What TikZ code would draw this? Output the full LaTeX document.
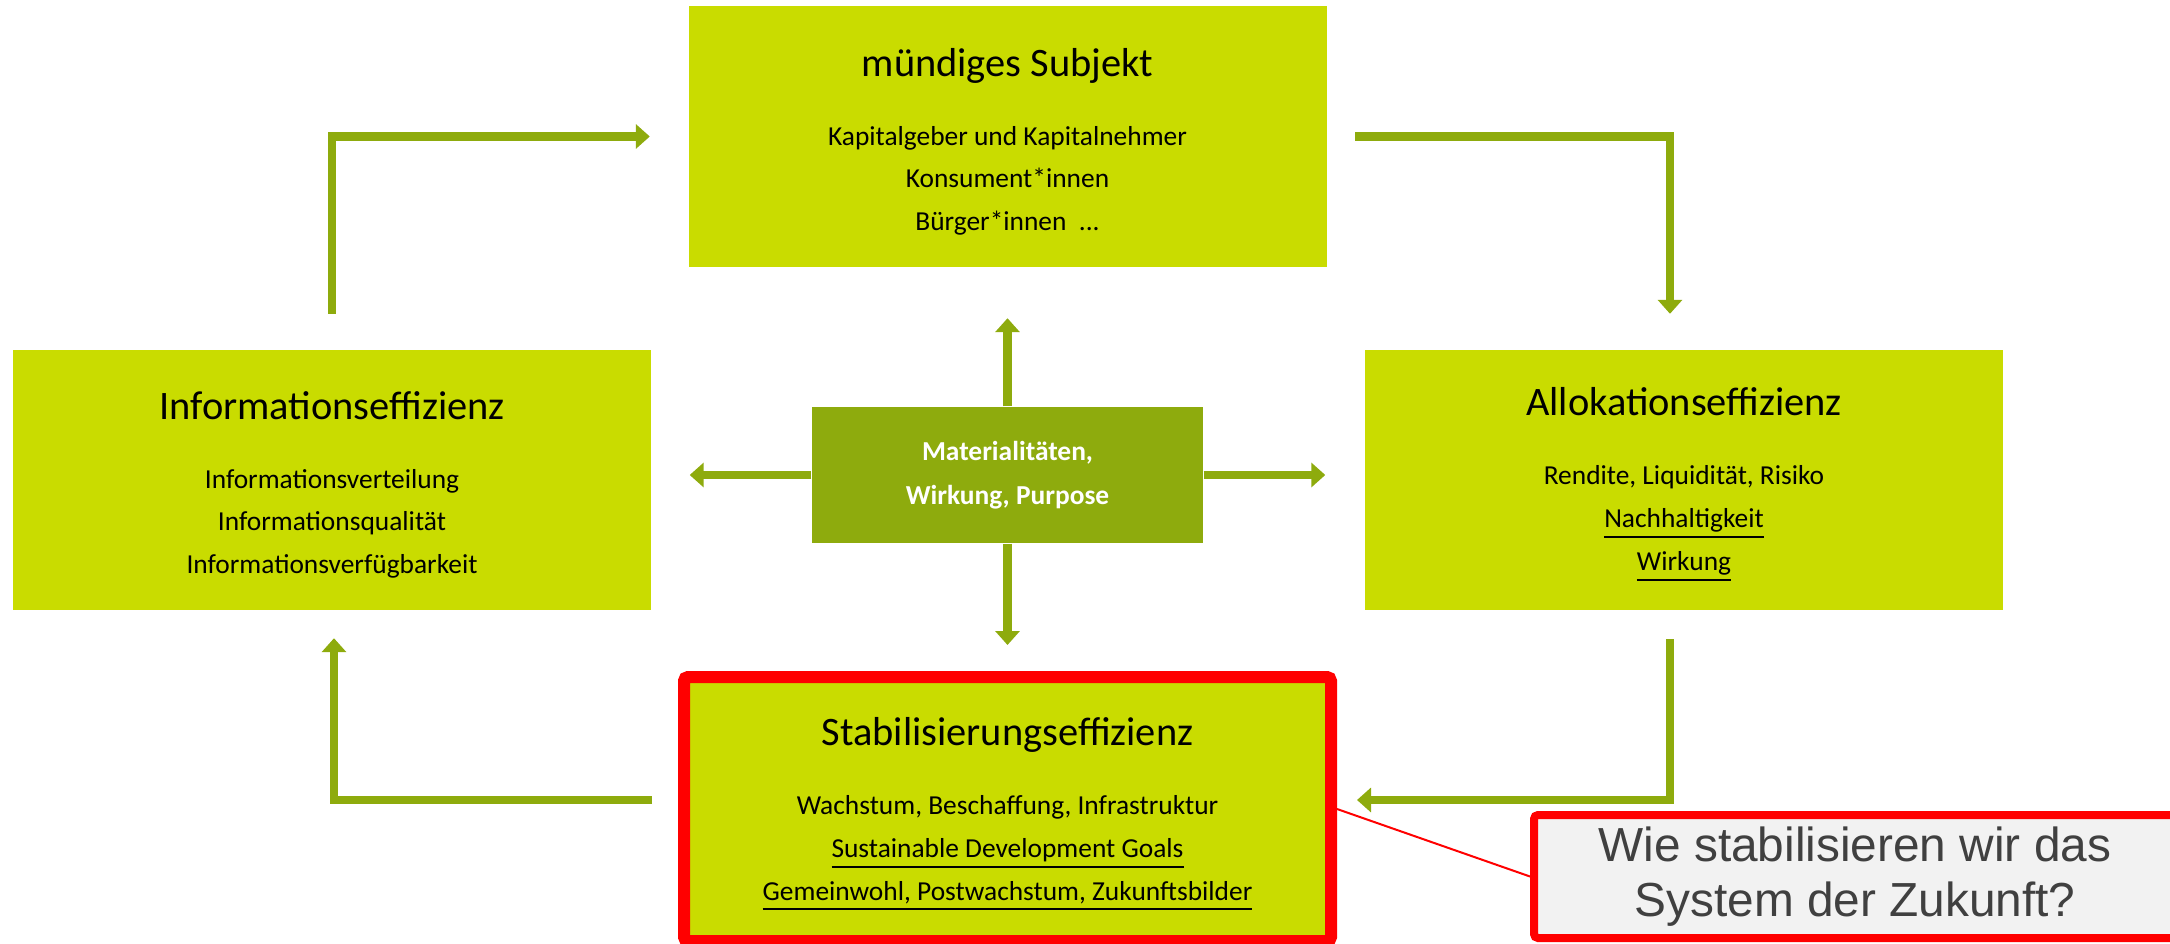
\documentclass[tikz,border=0pt]{standalone}
\usepackage{fontspec}
\setmainfont{Carlito}
\newfontfamily\calloutfont{Liberation Sans}
\usetikzlibrary{arrows.meta, positioning}
\definecolor{limegreen}{HTML}{C9DC00}
\definecolor{olivegreen}{HTML}{8EAB0D}
\definecolor{calloutgrey}{HTML}{F2F2F2}
\definecolor{callouttext}{HTML}{404040}
\newcommand{\boxtitle}[1]{{\fontsize{11.5}{12.2}\selectfont\rule{0pt}{11pt}#1}}
\tikzstyle{box} = [rectangle, fill=limegreen, align=center, minimum width=6.38cm, minimum height=2.6cm, inner sep=0pt, font=\fontsize{7.8}{12.2}\selectfont]
\tikzstyle{midbox} = [rectangle, fill=olivegreen, text=white, align=center, minimum width=3.91cm, minimum height=1.36cm, font=\bfseries\fontsize{7.8}{12.5}\selectfont]
\tikzstyle{redframe} = [draw=red, line width=0.12cm, rounded corners=0.04cm, minimum width=6.47cm, minimum height=2.64cm]
\tikzstyle{callout} = [rectangle, fill=calloutgrey, draw=red, line width=0.08cm, rounded corners=0.04cm, minimum width=6.42cm, minimum height=1.23cm, align=center, text=callouttext, font=\calloutfont\fontsize{13.6}{15.6}\selectfont]
\tikzstyle{arrow} = [line width=0.085cm, draw=olivegreen, -{Triangle[width=0.24cm,length=0.14cm]}]

\begin{document}
\begin{tikzpicture}[node distance=3.385cm]
    \useasboundingbox (0,0) rectangle (21.7,9.43);
    % boxes
    \node (mat) [midbox] at (10.075,4.68) {Materialitäten,\\Wirkung, Purpose};
    \node (subj) [box, above of=mat] {\boxtitle{mündiges Subjekt}\\[7.4pt] Kapitalgeber und Kapitalnehmer\\ Konsument*innen\\ Bürger*innen~ ...};
    \node (info) [box, left of=mat, xshift=-3.37cm, yshift=-0.045cm] {\boxtitle{Informationseffizienz}\\[7.4pt] Informationsverteilung\\ Informationsqualität\\ Informationsverfügbarkeit};
    \node (alloc) [box, right of=mat, xshift=3.38cm, yshift=-0.045cm] {\boxtitle{Allokationseffizienz}\\[7.4pt] Rendite, Liquidität, Risiko\\ \underline{Nachhaltigkeit}\\ \underline{Wirkung}};
    \node (stab) [box, redframe, below of=mat, yshift=0.045cm] {\boxtitle{Stabilisierungseffizienz}\\[7.4pt] Wachstum, Beschaffung, Infrastruktur\\ \underline{Sustainable Development Goals}\\ \underline{Gemeinwohl, Postwachstum, Zukunftsbilder}};
    \node (q) [callout] at (18.55,0.665) {Wie stabilisieren wir das\\System der Zukunft?};
    % cycle
    \draw [arrow] ([yshift=0.35cm]info.north) |- ([xshift=-0.38cm]subj.west);
    \draw [arrow] ([xshift=0.28cm]subj.east) -| ([xshift=-0.14cm,yshift=0.35cm]alloc.north);
    \draw [arrow] ([xshift=-0.14cm,yshift=-0.29cm]alloc.south) |- ([xshift=0.2cm,yshift=0.09cm]stab.east);
    \draw [arrow] ([xshift=-0.26cm,yshift=0.09cm]stab.west) -| ([xshift=0.02cm,yshift=-0.28cm]info.south);
    % from the centre
    \draw [arrow] (mat.north) -- ([yshift=-0.51cm]subj.south);
    \draw [arrow] (mat.south) -- ([yshift=0.26cm]stab.north);
    \draw [arrow] (mat.west) -- ([xshift=0.38cm]info.east |- mat.west);
    \draw [arrow] (mat.east) -- ([xshift=-0.39cm]alloc.west |- mat.east);
    % callout
    \draw [red, line width=0.02cm] (stab.east) -- (q.west);
\end{tikzpicture}
\end{document}
